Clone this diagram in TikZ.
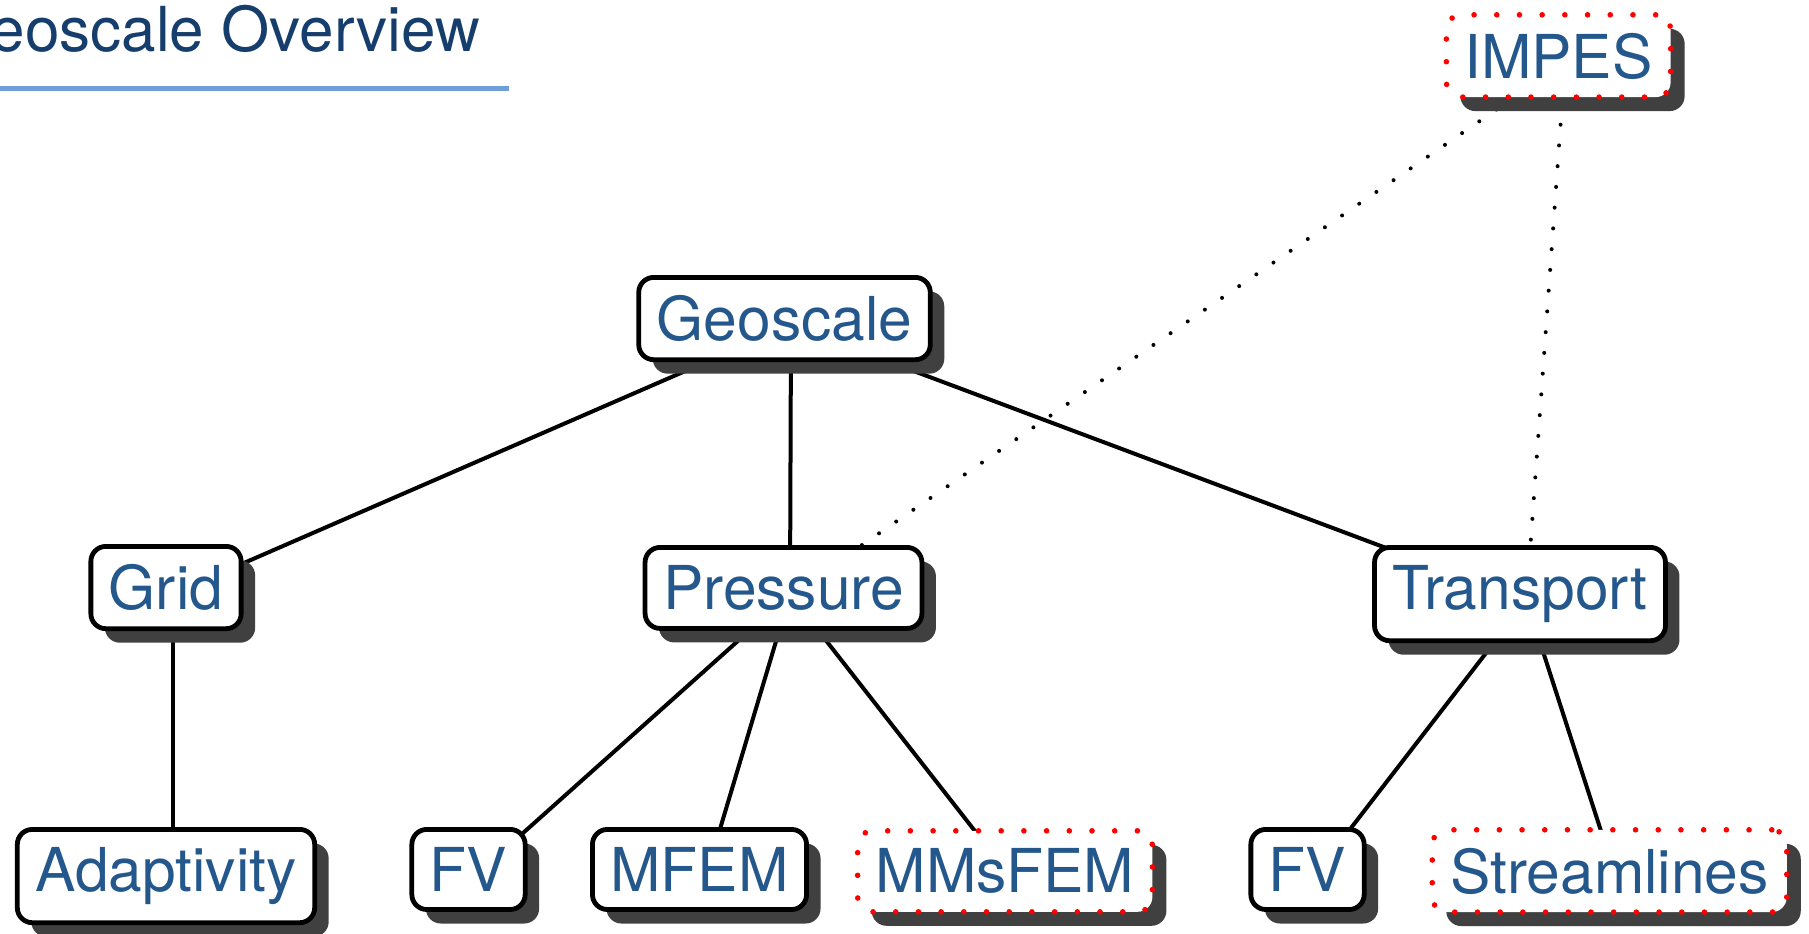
\documentclass[tikz,border=0pt]{standalone}
\usepackage{fontspec}
\setmainfont{TeX Gyre Heros}
\usetikzlibrary{shadows,backgrounds}
\definecolor{titleblue}{RGB}{22,62,108}
\definecolor{nodeblue}{RGB}{36,88,140}
\definecolor{rulebar}{RGB}{110,159,219}
\definecolor{shadowgray}{RGB}{64,64,64}

\begin{document}
\begin{tikzpicture}[x=0.5pt,y=-0.5pt,
  box/.style={rectangle, rounded corners=7.5pt, fill=white, inner sep=9pt,
    anchor=north, text=nodeblue, font=\fontsize{30.25}{36}\selectfont,
    drop shadow={shadow xshift=7pt, shadow yshift=-7pt, fill=shadowgray, opacity=1}},
  solidbox/.style={box, draw=black, line width=2.4pt},
  dotbox/.style={box, draw=red, line width=2.8pt, dash pattern=on 0pt off 11.35pt, line cap=round},
  link/.style={line width=2pt, black},
  dotlink/.style={line width=2pt, black, dash pattern=on 0pt off 10.4pt, line cap=round},
]
\useasboundingbox (0,0) rectangle (1809,933);

% slide title and its rule
\node[anchor=base west, inner sep=0pt, text=titleblue, font=\fontsize{31}{37}\selectfont]
  (title) at (-58,51.5) {Geoscale Overview};
\fill[rulebar] (0,86) rectangle (509,91);

% tree nodes
\node[dotbox]   (impes)  at (1558.5,12) {IMPES};
\node[solidbox] (geo)    at (784.5,275) {Geoscale};
\node[solidbox] (grid)   at (166,544)   {Grid};
\node[solidbox] (press)  at (783.5,545) {Pressure};
\node[solidbox] (trans)  at (1520,545)  {Transport};
\node[solidbox] (adapt)  at (166,827)   {Adaptivity};
\node[solidbox] (fvp)    at (468.5,827) {FV};
\node[solidbox] (mfem)   at (699.5,827) {MFEM};
\node[dotbox]   (mms)    at (1005,828)  {MMsFEM};
\node[solidbox] (fvt)    at (1307.5,827){FV};
\node[dotbox]   (stream) at (1609.5,827){Streamlines};

% connectors run between the centres of node+shadow, behind the boxes
\begin{scope}[on background layer]
  \foreach \a/\b in {geo/grid, geo/press, geo/trans, grid/adapt,
                     press/fvp, press/mfem, press/mms, trans/fvt, trans/stream}
    \draw[link] ([shift={(6.5,6.5)}]\a.center) -- ([shift={(6.5,6.5)}]\b.center);
  \foreach \b in {press, trans}
    \draw[dotlink] ([shift={(6.5,6.5)}]impes.center) -- ([shift={(6.5,6.5)}]\b.center);
\end{scope}
\end{tikzpicture}
\end{document}
